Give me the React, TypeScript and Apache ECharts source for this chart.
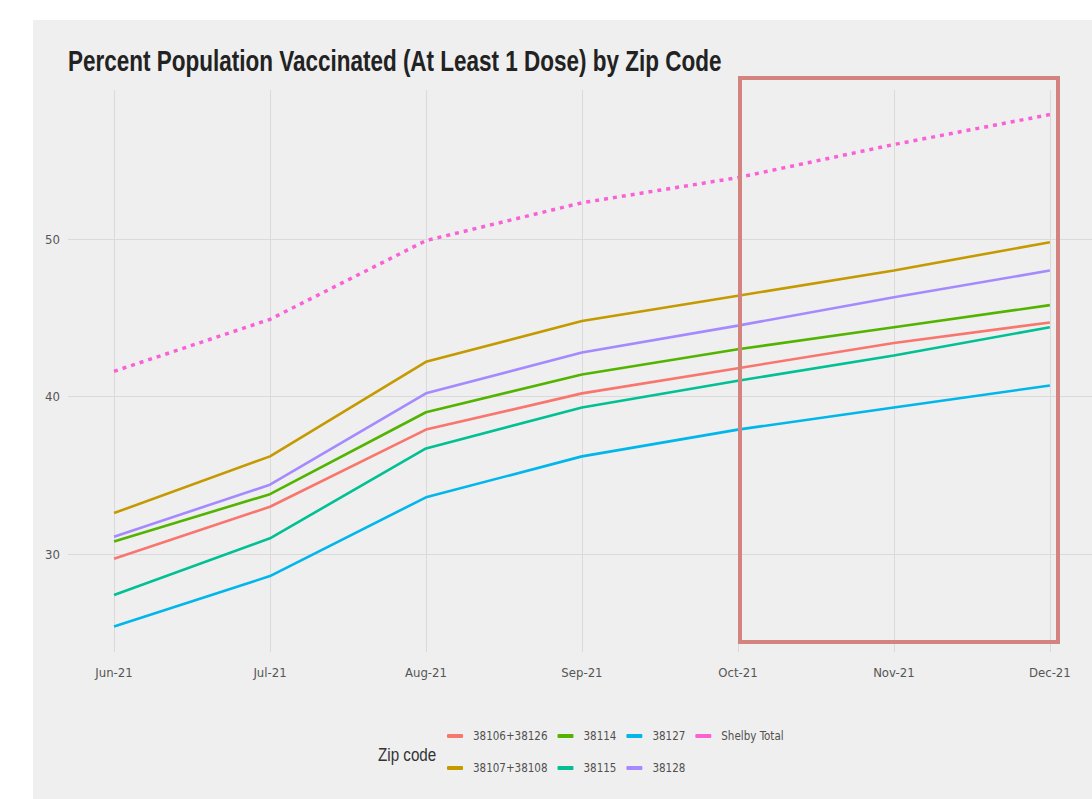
import React, { useEffect, useRef } from "react";
import * as echarts from "echarts";

const months = ["Jun-21", "Jul-21", "Aug-21", "Sep-21", "Oct-21", "Nov-21", "Dec-21"];
const monthIdx = [0, 1, 2, 3, 4, 5, 6];
const yTicks = [30, 40, 50];

const zip38106_38126 = [29.7, 33.0, 37.9, 40.2, 41.8, 43.4, 44.7];
const zip38107_38108 = [32.6, 36.2, 42.2, 44.8, 46.4, 48.0, 49.8];
const zip38114 = [30.8, 33.8, 39.0, 41.4, 43.0, 44.4, 45.8];
const zip38115 = [27.4, 31.0, 36.7, 39.3, 41.0, 42.6, 44.4];
const zip38127 = [25.4, 28.6, 33.6, 36.2, 37.9, 39.3, 40.7];
const zip38128 = [31.1, 34.4, 40.2, 42.8, 44.5, 46.3, 48.0];
const shelbyTotal = [41.6, 44.9, 49.9, 52.3, 53.9, 56.0, 57.9];

const seriesNames = ["38106+38126", "38107+38108", "38114", "38115", "38127", "38128", "Shelby Total"];
const seriesValues = [zip38106_38126, zip38107_38108, zip38114, zip38115, zip38127, zip38128, shelbyTotal];
const seriesColors = ["#F8766D", "#C49A00", "#53B400", "#00C094", "#00B6EB", "#A58AFF", "#FB61D7"];

const legendRow1 = ["38106+38126", "38114", "38127", "Shelby Total"];
const legendRow2 = ["38107+38108", "38115", "38128"];

const COND = "'DejaVu Sans Condensed', 'DejaVu Sans', sans-serif";
const ARIAL = "'Liberation Sans', Arial, sans-serif";

export default function App() {
  const ref = useRef<HTMLDivElement>(null);
  useEffect(() => {
    document.body.style.margin = "0";
    if (!ref.current) return;
    const chart = echarts.init(ref.current, null, { renderer: "svg" });
    const legendCommon = {
      orient: "horizontal",
      icon: "roundRect",
      itemWidth: 16,
      itemHeight: 4,
      itemGap: 10,
      padding: 0,
      textStyle: { fontFamily: COND, fontSize: 11.5, color: "#505050", padding: [0, 0, 0, 5] },
    };
    chart.setOption({
      animation: false,
      backgroundColor: "#efefef",
      grid: { left: 68, right: 0, top: 90, bottom: 147, containLabel: false },
      xAxis: {
        type: "value",
        min: -0.295,
        max: 6.27,
        axisLine: { show: false },
        axisTick: { show: false, customValues: monthIdx },
        axisLabel: {
          customValues: monthIdx,
          formatter: (v: number) => months[Math.round(v)],
          fontFamily: COND,
          fontSize: 13,
          color: "#555",
          margin: 14,
        },
        splitLine: { show: true, lineStyle: { color: "#dadada", width: 1 } },
      },
      yAxis: {
        type: "value",
        min: 23.78,
        max: 59.46,
        axisLine: { show: false },
        axisTick: { show: false, customValues: yTicks },
        axisLabel: {
          customValues: yTicks,
          fontFamily: COND,
          fontSize: 13,
          color: "#555",
          margin: 8,
        },
        splitLine: { show: true, lineStyle: { color: "#dadada", width: 1 } },
      },
      legend: [
        { ...legendCommon, left: 447, top: 730, data: legendRow1 },
        { ...legendCommon, left: 447, top: 762, data: legendRow2 },
      ],
      graphic: [
        { type: "rect", shape: { x: 0, y: 0, width: 1092, height: 20 }, style: { fill: "#ffffff" }, silent: true },
        { type: "rect", shape: { x: 0, y: 0, width: 33, height: 799 }, style: { fill: "#ffffff" }, silent: true },
        {
          type: "text",
          x: 68,
          y: 46,
          scaleX: 0.75,
          style: {
            text: "Percent Population Vaccinated (At Least 1 Dose) by Zip Code",
            fontFamily: ARIAL,
            fontSize: 30,
            fontWeight: "bold",
            fill: "#222",
            textAlign: "left",
            textVerticalAlign: "top",
          },
          silent: true,
        },
        {
          type: "text",
          x: 378,
          y: 745,
          scaleX: 0.8,
          style: {
            text: "Zip code",
            fontFamily: ARIAL,
            fontSize: 19,
            fill: "#333",
            textAlign: "left",
            textVerticalAlign: "top",
          },
          silent: true,
        },
        {
          type: "rect",
          shape: { x: 740, y: 78, width: 318, height: 564 },
          style: { fill: "none", stroke: "#d3847f", lineWidth: 4 },
          silent: true,
          z: 10,
        },
      ],
      series: seriesNames.map((name, i) => ({
        name,
        type: "line",
        data: seriesValues[i].map((v, j) => [monthIdx[j], v]),
        showSymbol: false,
        symbol: "none",
        color: seriesColors[i],
        itemStyle: { color: seriesColors[i] },
        lineStyle:
          name === "Shelby Total"
            ? { color: seriesColors[i], width: 3.5, type: [4, 5] }
            : { color: seriesColors[i], width: 2.6 },
      })),
    });
    return () => chart.dispose();
  }, []);
  return <div ref={ref} style={{ width: 1092, height: 799 }} />;
}
